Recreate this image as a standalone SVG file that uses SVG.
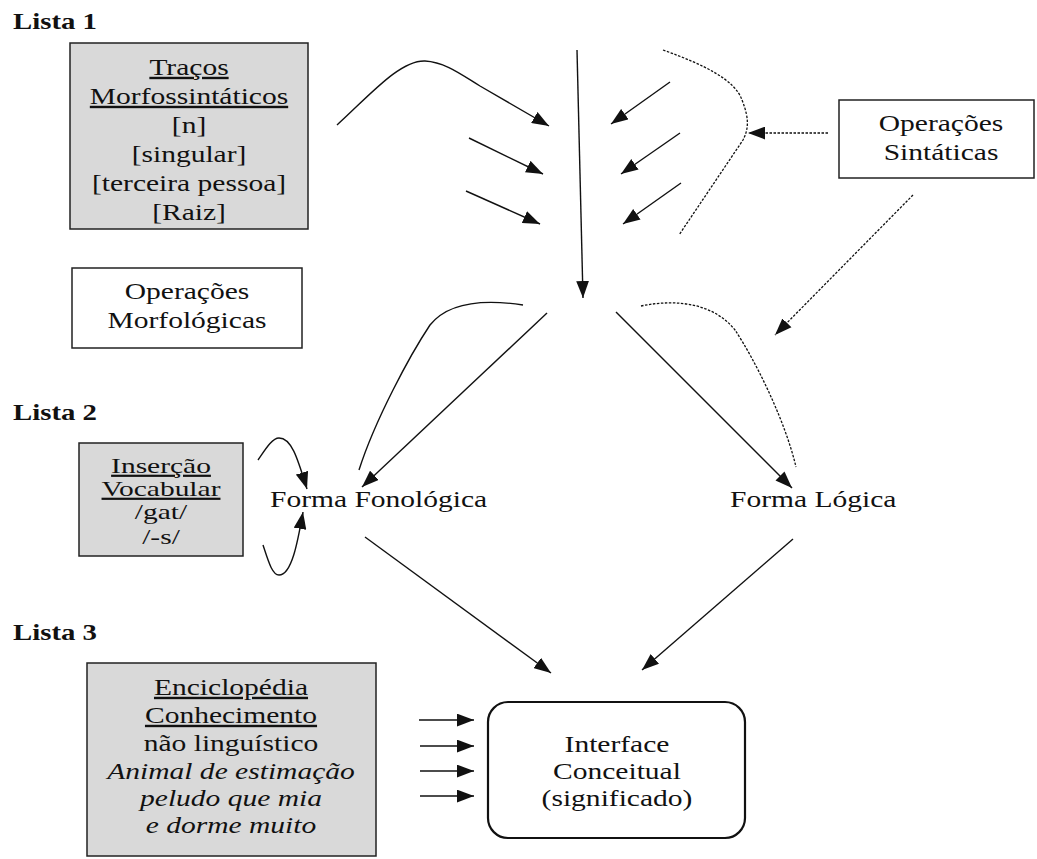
<svg xmlns="http://www.w3.org/2000/svg" width="1037" height="859" viewBox="0 0 1037 859">
<defs>
<style>
.t{font-family:"Liberation Serif","Times New Roman",serif;font-size:24px;fill:#111;text-anchor:middle}
.s{font-size:22px}
.it{font-style:italic}
.u{text-decoration:underline}
.h{font-family:"Liberation Serif","Times New Roman",serif;font-size:24px;font-weight:bold;fill:#111}
.box{fill:#fff;stroke:#222;stroke-width:1.5}
.gray{fill:#d9d9d9;stroke:#222;stroke-width:1.5}
.ln{fill:none;stroke:#111;stroke-width:1.4}
.dl{fill:none;stroke:#111;stroke-width:1.3;stroke-dasharray:2.5 1.5}
</style>
<marker id="ah" viewBox="0 0 16 12" refX="16" refY="6" markerWidth="17" markerHeight="13" orient="auto" markerUnits="userSpaceOnUse"><path d="M0,0 L16,6 L0,12 z" fill="#111"/></marker>
</defs>
<rect width="1037" height="859" fill="#fff"/>

<g id="lista1"><text class="h" transform="translate(13,29) scale(1.2,1)">Lista 1</text></g>
<g id="lista2"><text class="h" transform="translate(13,420) scale(1.2,1)">Lista 2</text></g>
<g id="lista3"><text class="h" transform="translate(13,640) scale(1.2,1)">Lista 3</text></g>

<g id="tracos">
<rect class="gray" x="70" y="43" width="238" height="186"/>
<text class="t u" transform="translate(189,75) scale(1.23,1)">Traços</text>
<text class="t u" transform="translate(189,104) scale(1.23,1)">Morfossintáticos</text>
<text class="t" transform="translate(189,133) scale(1.23,1)">[n]</text>
<text class="t" transform="translate(189,162) scale(1.23,1)">[singular]</text>
<text class="t" transform="translate(189,191) scale(1.23,1)">[terceira pessoa]</text>
<text class="t" transform="translate(189,220) scale(1.23,1)">[Raiz]</text>
</g>

<g id="opmorf">
<rect class="box" x="72" y="268" width="230" height="80"/>
<text class="t" transform="translate(187,299) scale(1.23,1)">Operações</text>
<text class="t" transform="translate(187,328) scale(1.23,1)">Morfológicas</text>
</g>

<g id="opsint">
<rect class="box" x="839" y="100" width="195" height="78"/>
<text class="t" transform="translate(941,131) scale(1.23,1)">Operações</text>
<text class="t" transform="translate(941,160) scale(1.23,1)">Sintáticas</text>
</g>

<g id="insercao">
<rect class="gray" x="79" y="443" width="164" height="113"/>
<text class="t s u" transform="translate(161,473) scale(1.34,1)">Inserção</text>
<text class="t s u" transform="translate(161,496) scale(1.34,1)">Vocabular</text>
<text class="t s" transform="translate(161,519) scale(1.34,1)">/gat/</text>
<text class="t s" transform="translate(161,544) scale(1.34,1)">/-s/</text>
</g>

<g id="ff"><text class="t" style="text-anchor:start" transform="translate(270,507) scale(1.23,1)">Forma Fonológica</text></g>
<g id="fl"><text class="t" style="text-anchor:start" transform="translate(730,507) scale(1.23,1)">Forma Lógica</text></g>

<g id="enciclopedia">
<rect class="gray" x="87" y="663" width="289" height="193"/>
<text class="t u" transform="translate(231,695) scale(1.23,1)">Enciclopédia</text>
<text class="t u" transform="translate(231,723) scale(1.23,1)">Conhecimento</text>
<text class="t" transform="translate(231,751) scale(1.23,1)">não linguístico</text>
<text class="t it" transform="translate(231,779) scale(1.23,1)">Animal de estimação</text>
<text class="t it" transform="translate(231,806) scale(1.23,1)">peludo que mia</text>
<text class="t it" transform="translate(231,833) scale(1.23,1)">e dorme muito</text>
</g>

<g id="interface">
<rect x="488" y="702" width="257" height="136" rx="20" fill="#fff" stroke="#111" stroke-width="2.2"/>
<text class="t" transform="translate(617,752) scale(1.23,1)">Interface</text>
<text class="t" transform="translate(617,779) scale(1.23,1)">Conceitual</text>
<text class="t" transform="translate(617,806) scale(1.23,1)">(significado)</text>
</g>

<g id="connectors">
<path class="ln" d="M577,50 L583,298" marker-end="url(#ah)"/>
<path class="ln" d="M337,125 C370,95 400,60 425,61 C445,62 462,75 480,86 L549,126" marker-end="url(#ah)"/>
<path class="ln" d="M469,138 L543,174" marker-end="url(#ah)"/>
<path class="ln" d="M466,191 L540,224" marker-end="url(#ah)"/>
<path class="ln" d="M670,82 L611,124" marker-end="url(#ah)"/>
<path class="ln" d="M680,133 L621,174" marker-end="url(#ah)"/>
<path class="ln" d="M681,183 L623,224" marker-end="url(#ah)"/>
<path class="dl" d="M663,50 C705,65 735,80 742,100 C750,120 748,130 743,140 L679,235"/>
<path class="dl" d="M828,133 L748,133" marker-end="url(#ah)"/>
<path class="dl" d="M913,195 L775,335" marker-end="url(#ah)"/>
<path class="ln" d="M523,305 C490,300 450,300 430,325 C410,355 375,420 359,470"/>
<path class="ln" d="M547,313 L362,487" marker-end="url(#ah)"/>
<path class="ln" d="M616,312 L792,488" marker-end="url(#ah)"/>
<path class="dl" d="M641,306 C680,298 715,305 735,330 C755,360 785,420 796,467"/>
<path class="ln" d="M258,460 C265,450 272,438 279,438 C292,438 298,460 307,489" marker-end="url(#ah)"/>
<path class="ln" d="M263,545 C268,560 272,575 279,575 C292,575 298,540 303,512" marker-end="url(#ah)"/>
<path class="ln" d="M365,537 L551,673" marker-end="url(#ah)"/>
<path class="ln" d="M793,539 L642,670" marker-end="url(#ah)"/>
<path class="ln" d="M419,720 L474,720" marker-end="url(#ah)"/>
<path class="ln" d="M420,746 L474,746" marker-end="url(#ah)"/>
<path class="ln" d="M420,771 L474,771" marker-end="url(#ah)"/>
<path class="ln" d="M420,796 L474,796" marker-end="url(#ah)"/>
</g>
</svg>
